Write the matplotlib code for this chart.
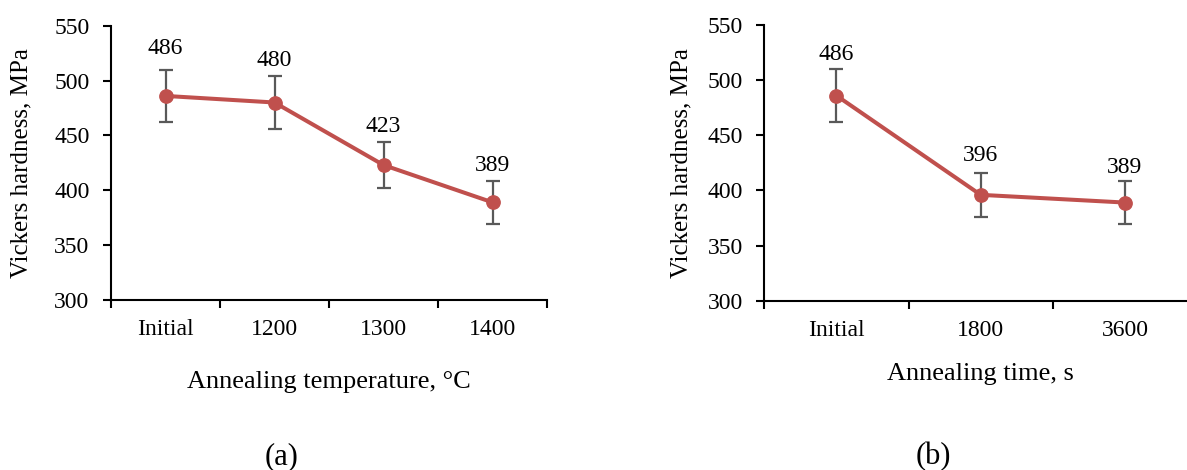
import matplotlib
matplotlib.use("Agg")
import matplotlib.pyplot as plt
import numpy as np

plt.rcParams['font.family'] = ['Liberation Serif', 'DejaVu Serif']

# Data
temp_labels = ["Initial", "1200", "1300", "1400"]
temp_hardness = [486, 480, 423, 389]
temp_err = [24, 24, 21, 19.5]

time_labels = ["Initial", "1800", "3600"]
time_hardness = [486, 396, 389]
time_err = [24, 20, 19.5]

yticks = [300, 350, 400, 450, 500, 550]

line_color = "#C0504D"
err_color = "#595959"

W, H = 1187, 470
fig = plt.figure(figsize=(W / 100, H / 100), dpi=100)

def px_axes(x0, x1, ytop, ybot):
    return fig.add_axes([x0 / W, 1 - ybot / H, (x1 - x0) / W, (ybot - ytop) / H])

ax1 = px_axes(111, 547, 25.7, 300)
ax2 = px_axes(764.3, 1197, 25, 300.7)

def draw(ax, labels, vals, errs, xlabel, ylabelpad, xlabelpad, label_offsets):
    x = np.arange(len(labels))
    ax.errorbar(x, vals, yerr=errs, fmt='none', ecolor=err_color, elinewidth=1.6,
                capsize=4.9, capthick=1.6, zorder=2)
    ax.plot(x, vals, color=line_color, lw=2.9, marker='o', ms=9.6, zorder=3)
    for xi, v, e, off in zip(x, vals, errs, label_offsets):
        ax.annotate(f"{v}", (xi, v + e), xytext=(0, off * 0.72), textcoords='offset points',
                    ha='center', va='center', fontsize=17, annotation_clip=False)
    ax.set_xlim(-0.5, len(labels) - 0.5)
    ax.set_ylim(300, 550)
    ax.set_yticks(yticks)
    ax.set_xticks(np.arange(len(labels) + 1) - 0.5)
    ax.set_xticklabels([])
    ax.set_xticks(x, minor=True)
    ax.set_xticklabels(labels, minor=True, fontsize=17)
    ax.tick_params(axis='x', which='major', length=6, width=1.5, direction='out')
    ax.tick_params(axis='x', which='minor', length=0, pad=14)
    ax.tick_params(axis='y', length=6, width=1.5, labelsize=17, pad=9.4)
    for s in ['top', 'right']:
        ax.spines[s].set_visible(False)
    for s in ['left', 'bottom']:
        ax.spines[s].set_linewidth(1.5)
    ax.set_ylabel("Vickers hardness, MPa", fontsize=18, labelpad=ylabelpad)
    ax.set_xlabel(xlabel, fontsize=19, labelpad=xlabelpad)

draw(ax1, temp_labels, temp_hardness, temp_err, "Annealing temperature, \u00b0C", 16, 22, [21, 16, 16, 15])
draw(ax2, time_labels, time_hardness, time_err, "Annealing time, s", 11, 16, [15, 17, 14])

fig.text(281.5 / W, 1 - 457 / H, "(a)", ha='center', va='center', fontsize=22)
fig.text(933 / W, 1 - 457 / H, "(b)", ha='center', va='center', fontsize=22)

fig.savefig("out.png", dpi=100)
